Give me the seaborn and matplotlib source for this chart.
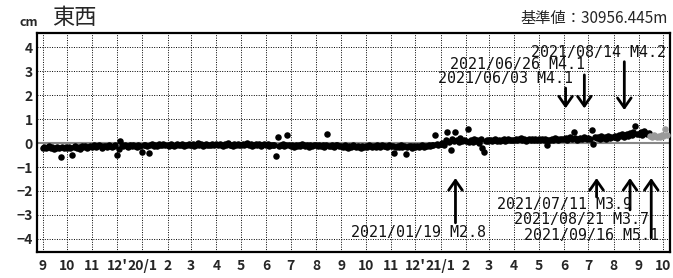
"""
plot.py — 東西成分の変位時系列 (基準値からの差, cm) と地震イベント注記.
"""
import matplotlib
matplotlib.use("Agg")
import matplotlib.pyplot as plt
import numpy as np
import pandas as pd
import seaborn as sns

# --- データ: 月ごとに 2 日おき (1, 3, 5, ... 29 日) の値 [cm] ---
m2019_09 = [-0.20, -0.16, -0.22, -0.18, -0.14, -0.21, -0.17, -0.24, -0.19, -0.15, -0.20, -0.58, -0.18, -0.22, -0.16]
m2019_10 = [-0.19, -0.15, -0.21, -0.48, -0.17, -0.12, -0.20, -0.16, -0.23, -0.14, -0.18, -0.11, -0.19, -0.15, -0.13]
m2019_11 = [-0.15, -0.10, -0.17, -0.12, -0.08, -0.14, -0.19, -0.11, -0.13, -0.16, -0.09, -0.14, -0.18, -0.12, -0.10]
m2019_12 = [-0.50, -0.25, 0.08, -0.10, -0.14, -0.08, -0.12, -0.16, -0.09, -0.13, -0.07, -0.11, -0.15, -0.10, -0.12]
m2020_01 = [-0.37, -0.10, -0.06, -0.12, -0.40, -0.09, -0.04, -0.11, -0.07, -0.13, -0.05, -0.10, -0.08, -0.03, -0.09]
m2020_02 = [-0.06, -0.11, -0.04, -0.09, -0.13, -0.07, -0.02, -0.10, -0.08, -0.05, -0.12, -0.06, -0.09, -0.03, -0.07]
m2020_03 = [-0.08, -0.04, -0.11, -0.06, -0.01, -0.09, -0.05, -0.12, -0.07, -0.03, -0.10, -0.06, -0.08, -0.02, -0.09]
m2020_04 = [-0.05, -0.10, -0.03, -0.08, -0.12, -0.04, -0.07, -0.01, -0.09, -0.06, -0.11, -0.03, -0.08, -0.05, -0.10]
m2020_05 = [-0.07, -0.02, -0.10, -0.05, 0.01, -0.08, -0.04, -0.11, -0.06, -0.03, -0.09, -0.05, -0.12, -0.07, -0.04]
m2020_06 = [-0.09, -0.05, -0.12, -0.07, -0.10, -0.06, -0.53, 0.27, -0.11, -0.08, -0.04, -0.13, -0.07, 0.35, -0.10]
m2020_07 = [-0.12, -0.08, -0.15, -0.06, -0.11, -0.09, -0.14, -0.05, -0.10, -0.13, -0.07, -0.16, -0.09, -0.11, -0.06]
m2020_08 = [-0.10, -0.14, -0.07, -0.12, -0.09, -0.16, -0.08, 0.37, -0.11, -0.13, -0.06, -0.15, -0.10, -0.08, -0.12]
m2020_09 = [-0.13, -0.17, -0.10, -0.15, -0.19, -0.12, -0.16, -0.09, -0.14, -0.18, -0.11, -0.15, -0.20, -0.13, -0.16]
m2020_10 = [-0.12, -0.16, -0.09, -0.14, -0.18, -0.11, -0.15, -0.08, -0.13, -0.17, -0.10, -0.14, -0.12, -0.16, -0.09]
m2020_11 = [-0.14, -0.11, -0.42, -0.16, -0.12, -0.18, -0.10, -0.15, -0.13, -0.45, -0.17, -0.11, -0.14, -0.19, -0.12]
m2020_12 = [-0.15, -0.11, -0.17, -0.13, -0.09, -0.16, -0.12, -0.14, -0.08, -0.13, -0.10, -0.06, 0.33, -0.04, -0.08]
m2021_01 = [-0.04, 0.02, -0.06, 0.12, 0.47, 0.05, -0.30, 0.18, 0.08, 0.45, 0.14, 0.03, 0.22, 0.09, 0.15]
m2021_02 = [0.10, 0.58, 0.06, 0.14, 0.03, 0.18, 0.08, 0.12, 0.02, 0.16, -0.20, -0.38, 0.09, 0.13, 0.07]
m2021_03 = [0.11, 0.15, 0.08, 0.13, 0.17, 0.10, 0.14, 0.07, 0.12, 0.16, 0.09, 0.13, 0.18, 0.11, 0.14]
m2021_04 = [0.14, 0.18, 0.11, 0.16, 0.20, 0.13, 0.17, 0.10, 0.15, 0.19, 0.12, 0.16, 0.14, 0.18, 0.13]
m2021_05 = [0.16, 0.12, 0.19, 0.14, 0.17, -0.10, 0.11, 0.15, 0.18, 0.13, 0.20, 0.16, 0.12, 0.17, 0.19]
m2021_06 = [0.18, 0.22, 0.15, 0.20, 0.24, 0.17, 0.45, 0.21, 0.14, 0.19, 0.23, 0.16, 0.26, 0.20, 0.18]
m2021_07 = [0.22, 0.18, 0.55, -0.05, 0.26, 0.20, 0.24, 0.17, 0.28, 0.21, 0.25, 0.19, 0.30, 0.23, 0.27]
m2021_08 = [0.26, 0.31, 0.22, 0.35, 0.28, 0.40, 0.25, 0.33, 0.38, 0.29, 0.42, 0.34, 0.45, 0.70, 0.36]
m2021_09 = [0.38, 0.45, 0.33, 0.50, 0.41, 0.36, 0.44, 0.30, 0.26, 0.33, 0.28, 0.24, 0.31, 0.27, 0.35]
m2021_10 = [0.29, 0.60, 0.32]

months = ["2019-09", "2019-10", "2019-11", "2019-12", "2020-01", "2020-02", "2020-03",
          "2020-04", "2020-05", "2020-06", "2020-07", "2020-08", "2020-09", "2020-10",
          "2020-11", "2020-12", "2021-01", "2021-02", "2021-03", "2021-04", "2021-05",
          "2021-06", "2021-07", "2021-08", "2021-09", "2021-10"]
month_values = [m2019_09, m2019_10, m2019_11, m2019_12, m2020_01, m2020_02, m2020_03,
                m2020_04, m2020_05, m2020_06, m2020_07, m2020_08, m2020_09, m2020_10,
                m2020_11, m2020_12, m2021_01, m2021_02, m2021_03, m2021_04, m2021_05,
                m2021_06, m2021_07, m2021_08, m2021_09, m2021_10]
preliminary_from = "2021-09-14"   # これ以降は速報値 (灰色)

# 地震イベント
quake_dates = ["2021-01-19", "2021-06-03", "2021-06-26", "2021-07-11",
               "2021-08-14", "2021-08-21", "2021-09-16"]
quake_mags = [2.8, 4.1, 4.1, 3.9, 4.2, 3.7, 5.1]

tick_labels = ["9", "10", "11", "12'", "20/1", "2", "3", "4", "5", "6", "7", "8",
               "9", "10", "11", "12'", "21/1", "2", "3", "4", "5", "6", "7", "8", "9", "10"]

title = "東西"
unit = "cm"
base_value = "基準値：30956.445m"


def build_frame() -> pd.DataFrame:
    rows = []
    for month, vals in zip(months, month_values):
        start = pd.Timestamp(month + "-01")
        last_day = start.days_in_month
        for i, v in enumerate(vals):
            day = min(1 + 2 * i, last_day)
            rows.append((start.replace(day=day), v))
    df = pd.DataFrame(rows, columns=["date", "value"])
    df["prelim"] = df["date"] >= pd.Timestamp(preliminary_from)
    return df


# 注記レイアウト: (矢印の尾 y, 矢印の先 y, 文字の y, 文字右端の x オフセット px)
ANNOT_LAYOUT = {
    "2021-01-19": (-3.33, -1.46, -3.73, 31),
    "2021-06-03": (2.30, 1.45, 2.68, 7),
    "2021-06-26": (2.85, 1.45, 3.28, 1),
    "2021-07-11": (-2.25, -1.46, -2.58, 35),
    "2021-08-14": (3.40, 1.38, 3.77, 42),
    "2021-08-21": (-2.79, -1.46, -3.20, 19),
    "2021-09-16": (-3.96, -1.46, -3.85, 8),
}


def main() -> None:
    df = build_frame()

    sns.set_style("white")
    plt.rcParams["font.family"] = ["Noto Sans CJK JP", "DejaVu Sans"]
    plt.rcParams["axes.unicode_minus"] = True

    fig = plt.figure(figsize=(6.73, 2.78), dpi=100)
    ax = fig.add_axes([37 / 673, 26 / 278, 633 / 673, 219 / 278])

    ax.axhline(0, color="#888888", lw=1.5, zorder=1)
    sns.scatterplot(data=df[~df["prelim"]], x="date", y="value", color="black",
                    s=22, linewidth=0, ax=ax, zorder=3)
    sns.scatterplot(data=df[df["prelim"]], x="date", y="value", color="#9a9a9a",
                    s=22, linewidth=0, ax=ax, zorder=3)

    ax.set_xlim(pd.Timestamp("2019-08-25"), pd.Timestamp("2021-10-09"))
    ax.set_ylim(-4.55, 4.6)
    ax.set_yticks(np.arange(-4, 5))
    ax.set_yticklabels([str(v).replace("-", "\u2212") for v in range(-4, 5)],
                       fontsize=10, fontweight="bold")
    tick_dates = pd.to_datetime([m + "-01" for m in months])
    ax.set_xticks(tick_dates)
    ax.set_xticklabels(tick_labels, fontsize=10, fontweight="bold")
    ax.tick_params(axis="y", length=0, pad=3)
    ax.tick_params(axis="x", length=0, pad=5)
    ax.set_xlabel("")
    ax.set_ylabel("")

    ax.grid(True, color="black", linestyle=(0, (1, 1.5)), linewidth=0.7)
    ax.set_axisbelow(True)
    for sp in ax.spines.values():
        sp.set_color("black")
        sp.set_linewidth(1.6)

    for d, mag in zip(quake_dates, quake_mags):
        tail, head, ty, dx = ANNOT_LAYOUT[d]
        x = pd.Timestamp(d)
        ax.annotate("", xy=(x, head), xytext=(x, tail),
                    arrowprops=dict(arrowstyle="->,head_length=0.5,head_width=0.35",
                                    lw=2, color="black", mutation_scale=14,
                                    shrinkA=0, shrinkB=0), zorder=4)
        label = f"{x:%Y/%m/%d} M{mag:.1f}"
        ax.annotate(label, xy=(x, ty), xytext=(dx, 0), textcoords="offset pixels",
                    ha="right", va="center", fontsize=10.8, family="DejaVu Sans Mono",
                    color="#111111", zorder=5, annotation_clip=False)

    fig.text(20 / 673, 1 - 23 / 278, unit, fontsize=9, fontweight="bold",
             ha="left", va="center")
    fig.text(52 / 673, 1 - 17 / 278, title, fontsize=16, ha="left", va="center")
    fig.text(668 / 673, 1 - 18 / 278, base_value, fontsize=11, ha="right", va="center")

    fig.savefig("out.png", dpi=100)
    plt.close(fig)


if __name__ == "__main__":
    main()
